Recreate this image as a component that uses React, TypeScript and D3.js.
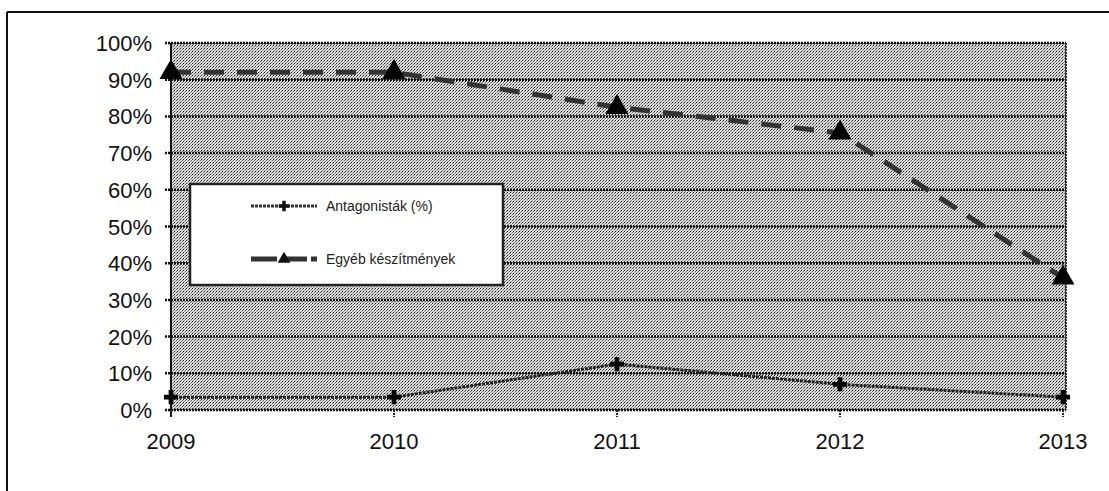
import { useEffect, useRef } from "react";
import * as d3 from "d3";

const years = ["2009", "2010", "2011", "2012", "2013"];
const seriesA = [92, 92, 82.5, 75.5, 36]; // triangles, dashed
const seriesB = [3.5, 3.5, 12.5, 7, 3.5]; // crosses, thin
const yTicks = [0, 10, 20, 30, 40, 50, 60, 70, 80, 90, 100];
const legendLabels = ["Antagonisták (%)", "Egyéb készítmények"];

export default function App() {
  const ref = useRef<SVGSVGElement>(null);

  useEffect(() => {
    if (!ref.current) return;
    document.body.style.margin = "0";
    const w = 1109;
    const h = 491;
    const m = { top: 43, right: 43, bottom: 81, left: 171 };

    const svg = d3.select(ref.current);
    svg.selectAll("*").remove();
    svg.attr("width", w).attr("height", h).attr("viewBox", `0 0 ${w} ${h}`);

    const defs = svg.append("defs");
    const pat = defs.append("pattern").attr("id", "dither").attr("width", 3).attr("height", 3).attr("patternUnits", "userSpaceOnUse");
    pat.append("rect").attr("width", 3).attr("height", 3).attr("fill", "#dadada");
    pat.append("rect").attr("width", 1).attr("height", 1).attr("fill", "#222");
    pat.append("rect").attr("x", 2).attr("y", 1).attr("width", 1).attr("height", 1).attr("fill", "#666");
    pat.append("rect").attr("x", 1).attr("y", 2).attr("width", 1).attr("height", 1).attr("fill", "#999");

    svg.append("rect").attr("width", w).attr("height", h).attr("fill", "#fff");

    // outer frame (top + left only visible)
    svg.append("line").attr("x1", 7).attr("x2", w).attr("y1", 12).attr("y2", 12).attr("stroke", "#111").attr("stroke-width", 2);
    svg.append("line").attr("x1", 7).attr("x2", 7).attr("y1", 12).attr("y2", h).attr("stroke", "#111").attr("stroke-width", 2);

    const x = d3.scalePoint().domain(years).range([m.left, w - m.right - 3]);
    const y = d3.scaleLinear().domain([0, 100]).range([h - m.bottom, m.top]);

    svg
      .append("rect")
      .attr("x", m.left)
      .attr("y", m.top)
      .attr("width", w - m.right - m.left)
      .attr("height", h - m.bottom - m.top)
      .attr("fill", "url(#dither)");

    svg
      .append("g")
      .selectAll("line")
      .data(yTicks)
      .join("line")
      .attr("x1", m.left - 6)
      .attr("x2", w - m.right)
      .attr("y1", (d) => y(d))
      .attr("y2", (d) => y(d))
      .attr("stroke", "#111")
      .attr("stroke-width", 2.5)
      .attr("stroke-dasharray", "2 1");

    // axes lines
    svg.append("line").attr("x1", m.left).attr("x2", m.left).attr("y1", m.top).attr("y2", h - m.bottom + 6).attr("stroke", "#111").attr("stroke-width", 2);
    svg.append("line").attr("x1", w - m.right).attr("x2", w - m.right).attr("y1", m.top).attr("y2", h - m.bottom).attr("stroke", "#333").attr("stroke-width", 2).attr("stroke-dasharray", "2 1");

    svg
      .append("g")
      .selectAll("line")
      .data(years)
      .join("line")
      .attr("x1", (d) => x(d)!)
      .attr("x2", (d) => x(d)!)
      .attr("y1", h - m.bottom)
      .attr("y2", h - m.bottom + 7)
      .attr("stroke", "#222")
      .attr("stroke-width", 2)
      .attr("stroke-dasharray", "2 1");

    const font = "'Liberation Sans', Arial, sans-serif";
    svg
      .append("g")
      .selectAll("text")
      .data(yTicks)
      .join("text")
      .attr("x", 152)
      .attr("y", (d) => y(d) + 8)
      .attr("text-anchor", "end")
      .attr("font-family", font)
      .attr("font-size", 22)
      .attr("fill", "#111")
      .text((d) => `${d}%`);

    svg
      .append("g")
      .selectAll("text")
      .data(years)
      .join("text")
      .attr("x", (d) => x(d)!)
      .attr("y", h - m.bottom + 39)
      .attr("text-anchor", "middle")
      .attr("font-family", font)
      .attr("font-size", 22)
      .attr("fill", "#111")
      .text((d) => d);

    const lineA = d3
      .line<number>()
      .x((_, i) => x(years[i])!)
      .y((d) => y(d));

    svg
      .append("path")
      .attr("d", lineA(seriesA))
      .attr("fill", "none")
      .attr("stroke", "#333")
      .attr("stroke-width", 5)
      .attr("stroke-dasharray", "20 13");

    svg
      .append("path")
      .attr("d", lineA(seriesB))
      .attr("fill", "none")
      .attr("stroke", "#222")
      .attr("stroke-width", 3)
      .attr("stroke-dasharray", "3 1");

    const tri = d3.symbol().type(d3.symbolTriangle).size(230);
    svg
      .append("g")
      .selectAll("path")
      .data(seriesA)
      .join("path")
      .attr("transform", (d, i) => `translate(${x(years[i])},${y(d)})`)
      .attr("d", tri)
      .attr("fill", "#000");

    const cross = d3.symbol().type(d3.symbolCross).size(110);
    svg
      .append("g")
      .selectAll("path")
      .data(seriesB)
      .join("path")
      .attr("transform", (d, i) => `translate(${x(years[i])},${y(d)})`)
      .attr("d", cross)
      .attr("fill", "#000");

    // legend
    const lg = svg.append("g").attr("transform", "translate(190,184)");
    lg.append("rect").attr("width", 313).attr("height", 101).attr("fill", "#fff").attr("stroke", "#222").attr("stroke-width", 2.5);
    const rows = [
      { label: legendLabels[0], dash: "3 1", sw: 3 },
      { label: legendLabels[1], dash: "26 4", sw: 5 },
    ];
    rows.forEach((r, i) => {
      const ry = 22 + i * 53;
      lg.append("line").attr("x1", 61).attr("x2", 127).attr("y1", ry).attr("y2", ry).attr("stroke", "#333").attr("stroke-width", r.sw).attr("stroke-dasharray", r.dash);
      lg.append("path").attr("transform", `translate(94,${ry})`).attr("d", i === 0 ? d3.symbol().type(d3.symbolCross).size(60)() : d3.symbol().type(d3.symbolTriangle).size(70)()).attr("fill", "#111");
      lg.append("text").attr("x", 136).attr("y", ry + 5).attr("font-family", font).attr("font-size", 14).attr("fill", "#222").text(r.label);
    });
  }, []);

  return <svg ref={ref} style={{ position: "absolute", left: 0, top: 0 }} />;
}
